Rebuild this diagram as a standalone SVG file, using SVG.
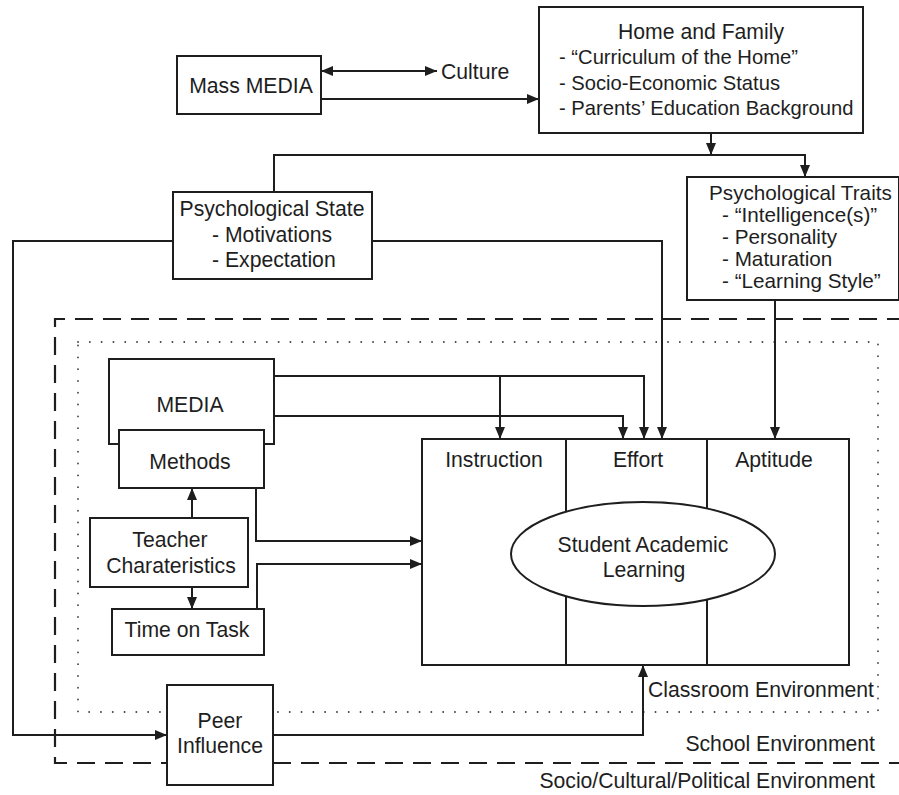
<svg xmlns="http://www.w3.org/2000/svg" width="899" height="795" viewBox="0 0 899 795">
<style>
text{font-family:"Liberation Sans",Arial,sans-serif;font-size:21.2px;fill:#1e1e1e}
.c{text-anchor:middle}
.r{text-anchor:end}
.hf{font-size:20.2px}
.pt{font-size:20.7px}
.box{fill:#fff;stroke:#1e1e1e;stroke-width:2}
.ln{fill:none;stroke:#1e1e1e;stroke-width:2}
.arr{marker-end:url(#ah)}
.dash{fill:none;stroke:#1e1e1e;stroke-width:2.2;stroke-dasharray:18 10}
.dot{fill:none;stroke:#444;stroke-width:1.8;stroke-dasharray:0.1 11.7;stroke-linecap:round}
</style>
<defs>
<marker id="ah" viewBox="0 0 12 10" markerWidth="12" markerHeight="10" refX="12" refY="5" orient="auto-start-reverse" markerUnits="userSpaceOnUse">
<path d="M0,0 L12,5 L0,10 Z" fill="#1e1e1e"/>
</marker>
</defs>
<rect fill="#fff" width="899" height="795"/>
<g id="environments">
<path class="dash" d="M905,319 H55 V763 H905"/>
<rect class="dot" x="78" y="342" width="800" height="370"/>
<text class="r" x="874" y="697">Classroom Environment</text>
<text class="r" x="875" y="751">School Environment</text>
<text class="r" x="875" y="788">Socio/Cultural/Political Environment</text>
</g>
<g id="connectors">
<path class="ln" d="M321,71 H437" marker-start="url(#ah)" marker-end="url(#ah)"/>
<path class="ln arr" d="M321,99 H539"/>
<path class="ln arr" d="M711,133 V155"/>
<path class="ln arr" d="M274,192 V155 H805 V177"/>
<path class="ln arr" d="M173,241 H13 V735 H167"/>
<path class="ln arr" d="M372,241 H662 V439"/>
<path class="ln arr" d="M775,300 V439"/>
<path class="ln arr" d="M274,376 H644 V439"/>
<path class="ln arr" d="M500,376 V439"/>
<path class="ln arr" d="M274,416 H623 V439"/>
<path class="ln arr" d="M256,488 V541 H422"/>
<path class="ln arr" d="M257,609 V564 H422"/>
<path class="ln arr" d="M192,518 V488"/>
<path class="ln arr" d="M192,587 V609"/>
<path class="ln arr" d="M273,735 H643 V665"/>
</g>
<g id="mass-media">
<rect class="box" x="177" y="56" width="144" height="58"/>
<text class="c" x="251" y="93">Mass MEDIA</text>
</g>
<g id="culture">
<text x="441" y="79">Culture</text>
</g>
<g id="home-family">
<rect class="box" x="539" y="7" width="324" height="126"/>
<text class="c" x="701" y="39">Home and Family</text>
<text class="hf" x="559" y="64">- “Curriculum of the Home”</text>
<text class="hf" x="559" y="90">- Socio-Economic Status</text>
<text class="hf" x="559" y="115">- Parents’ Education Background</text>
</g>
<g id="psych-state">
<rect class="box" x="173" y="192" width="199" height="87"/>
<text class="c" x="272" y="216">Psychological State</text>
<text x="212" y="242">- Motivations</text>
<text x="212" y="267">- Expectation</text>
</g>
<g id="psych-traits">
<rect class="box" x="687" y="177" width="212" height="123"/>
<text class="pt" x="709" y="200">Psychological Traits</text>
<text class="pt" x="722" y="222">- “Intelligence(s)”</text>
<text class="pt" x="722" y="244">- Personality</text>
<text class="pt" x="722" y="266">- Maturation</text>
<text class="pt" x="722" y="288">- “Learning Style”</text>
</g>
<g id="media">
<rect class="box" x="109" y="359" width="165" height="85"/>
<text class="c" x="190" y="412">MEDIA</text>
</g>
<g id="methods">
<rect class="box" x="119" y="430" width="145" height="58"/>
<text class="c" x="190" y="469">Methods</text>
</g>
<g id="teacher">
<rect class="box" x="90" y="518" width="158" height="69"/>
<text class="c" x="170" y="547">Teacher</text>
<text class="c" x="171" y="573">Charateristics</text>
</g>
<g id="time-on-task">
<rect class="box" x="112" y="609" width="152" height="46"/>
<text class="c" x="187" y="637">Time on Task</text>
</g>
<g id="student-learning">
<rect class="box" x="422" y="439" width="427" height="226"/>
<path class="ln" d="M566,439 V665 M707,439 V665"/>
<text class="c" x="494" y="467">Instruction</text>
<text class="c" x="638" y="467">Effort</text>
<text class="c" x="774" y="467">Aptitude</text>
<ellipse class="box" cx="643" cy="554" rx="132" ry="52"/>
<text class="c" x="643" y="552">Student Academic</text>
<text class="c" x="644" y="577">Learning</text>
</g>
<g id="peer-influence">
<rect class="box" x="167" y="685" width="106" height="100"/>
<text class="c" x="220" y="728">Peer</text>
<text class="c" x="220" y="753">Influence</text>
</g>
</svg>
